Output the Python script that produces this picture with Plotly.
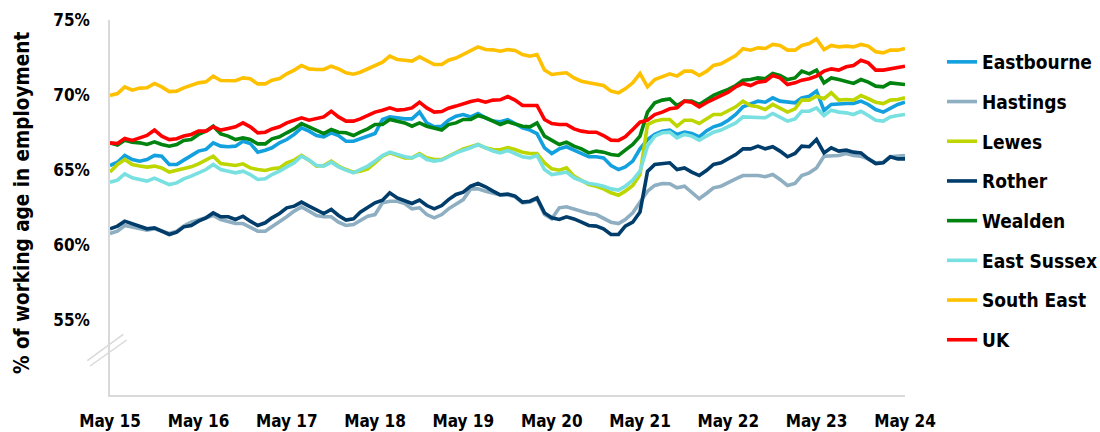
import pandas as pd
import plotly.graph_objects as go

months = pd.date_range("2015-05-01", "2024-05-01", freq="MS")
tick_labels = ["May 15", "May 16", "May 17", "May 18", "May 19", "May 20", "May 21", "May 22", "May 23", "May 24"]
y_ticks = [55, 60, 65, 70, 75]
y_tick_labels = ["55%", "60%", "65%", "70%", "75%"]

eastbourne = [65.30, 65.52, 65.97, 65.70, 65.59, 65.70, 65.97, 65.92, 65.37, 65.37, 65.66, 65.97, 66.26, 66.37, 66.81, 66.59, 66.55, 66.59, 66.92, 66.77, 66.19, 66.32, 66.48, 66.81, 67.03, 67.37, 67.81, 67.59, 67.30, 67.21, 67.48, 67.30, 66.92, 66.92, 67.08, 67.30, 67.43, 68.37, 68.54, 68.48, 68.41, 68.41, 68.86, 68.14, 67.88, 67.92, 68.32, 68.59, 68.70, 68.54, 68.77, 68.48, 68.26, 68.22, 68.35, 68.10, 67.81, 67.66, 67.43, 66.48, 66.10, 66.41, 66.55, 66.32, 66.10, 65.88, 65.88, 65.81, 65.30, 65.03, 65.21, 65.59, 66.41, 67.03, 67.37, 67.59, 67.66, 67.37, 67.52, 67.43, 67.21, 67.62, 67.88, 68.03, 68.32, 68.70, 69.21, 69.43, 69.59, 69.52, 69.81, 69.59, 69.52, 69.48, 69.81, 69.92, 70.26, 68.97, 69.37, 69.43, 69.43, 69.43, 69.59, 69.37, 69.03, 68.86, 69.08, 69.37, 69.52]
hastings = [60.77, 60.92, 61.30, 61.21, 61.08, 60.99, 61.08, 60.92, 60.77, 60.92, 61.26, 61.52, 61.66, 61.81, 61.97, 61.70, 61.59, 61.43, 61.43, 61.21, 60.92, 60.92, 61.21, 61.52, 61.88, 62.26, 62.54, 62.26, 61.97, 61.88, 61.88, 61.52, 61.30, 61.37, 61.66, 61.92, 62.03, 62.81, 62.92, 62.92, 62.77, 62.41, 62.48, 62.03, 61.81, 62.03, 62.41, 62.70, 63.03, 63.74, 63.74, 63.59, 63.48, 63.34, 63.34, 63.21, 62.81, 62.86, 63.08, 62.03, 61.75, 62.48, 62.55, 62.41, 62.26, 62.10, 62.03, 61.81, 61.52, 61.43, 61.70, 62.15, 62.81, 63.59, 63.97, 64.10, 64.08, 63.81, 63.92, 63.48, 63.08, 63.45, 63.81, 63.92, 64.19, 64.41, 64.63, 64.63, 64.63, 64.55, 64.70, 64.37, 63.97, 64.10, 64.63, 64.81, 65.14, 65.92, 65.92, 65.97, 66.10, 65.97, 65.92, 65.74, 65.48, 65.52, 65.88, 65.92, 65.97]
lewes = [64.86, 65.37, 65.70, 65.37, 65.26, 65.19, 65.26, 65.14, 64.86, 64.99, 65.14, 65.21, 65.41, 65.66, 65.92, 65.43, 65.37, 65.30, 65.41, 65.14, 65.03, 64.97, 65.08, 65.14, 65.48, 65.66, 65.97, 65.66, 65.26, 65.30, 65.59, 65.26, 65.03, 64.86, 64.92, 65.08, 65.48, 65.92, 66.14, 65.97, 65.81, 65.81, 66.10, 65.81, 65.70, 65.70, 65.92, 66.14, 66.41, 66.55, 66.70, 66.48, 66.37, 66.35, 66.50, 66.37, 66.19, 66.10, 66.10, 65.48, 65.08, 64.99, 65.14, 64.59, 64.32, 64.03, 63.92, 63.74, 63.48, 63.32, 63.59, 63.97, 64.70, 68.03, 68.26, 68.37, 68.37, 67.92, 68.32, 68.32, 68.10, 68.40, 68.70, 68.70, 68.92, 69.21, 69.59, 69.30, 69.21, 69.03, 69.37, 69.14, 68.86, 69.08, 69.66, 69.66, 69.92, 69.75, 70.15, 69.66, 69.70, 69.66, 69.97, 69.75, 69.52, 69.43, 69.66, 69.70, 69.81]
rother = [61.08, 61.26, 61.59, 61.41, 61.26, 61.08, 61.14, 60.92, 60.70, 60.86, 61.21, 61.30, 61.59, 61.81, 62.14, 61.88, 61.88, 61.70, 61.92, 61.59, 61.30, 61.48, 61.81, 62.10, 62.48, 62.59, 62.86, 62.59, 62.37, 62.10, 62.37, 61.97, 61.66, 61.74, 62.19, 62.54, 62.81, 62.99, 63.48, 63.14, 62.92, 62.77, 62.99, 62.63, 62.41, 62.63, 63.03, 63.37, 63.52, 63.92, 64.10, 63.88, 63.59, 63.34, 63.40, 63.26, 62.86, 62.92, 63.14, 62.14, 61.81, 61.70, 61.88, 61.74, 61.52, 61.30, 61.26, 61.08, 60.70, 60.70, 61.26, 61.52, 62.19, 64.90, 65.37, 65.43, 65.48, 65.03, 65.14, 64.86, 64.63, 64.98, 65.37, 65.48, 65.74, 66.03, 66.41, 66.41, 66.59, 66.41, 66.55, 66.26, 65.88, 66.10, 66.59, 66.55, 67.03, 66.14, 66.48, 66.26, 66.32, 66.19, 66.14, 65.74, 65.43, 65.48, 65.88, 65.74, 65.74]
wealden = [66.81, 66.66, 66.99, 66.86, 66.81, 66.70, 66.88, 66.70, 66.59, 66.70, 66.97, 67.03, 67.37, 67.59, 67.92, 67.41, 67.26, 67.03, 67.14, 67.03, 66.74, 66.74, 67.08, 67.21, 67.48, 67.74, 68.10, 67.88, 67.66, 67.43, 67.70, 67.52, 67.48, 67.30, 67.52, 67.74, 68.03, 68.03, 68.37, 68.26, 68.14, 67.92, 68.14, 67.92, 67.81, 67.66, 68.03, 68.14, 68.37, 68.37, 68.63, 68.48, 68.26, 68.03, 68.22, 68.10, 67.92, 67.88, 68.14, 67.26, 66.99, 66.70, 66.86, 66.59, 66.41, 66.14, 66.26, 66.19, 66.03, 65.97, 66.32, 66.70, 67.26, 68.86, 69.48, 69.66, 69.74, 69.30, 69.59, 69.59, 69.37, 69.70, 69.97, 70.19, 70.37, 70.63, 70.99, 71.03, 71.14, 71.08, 71.43, 71.30, 71.03, 71.14, 71.59, 71.41, 71.66, 70.81, 71.14, 71.03, 70.92, 70.77, 71.03, 70.86, 70.59, 70.54, 70.81, 70.77, 70.70]
east_sussex = [64.19, 64.32, 64.74, 64.48, 64.37, 64.26, 64.46, 64.26, 64.03, 64.14, 64.41, 64.59, 64.81, 65.03, 65.37, 65.03, 64.92, 64.81, 64.92, 64.70, 64.37, 64.41, 64.70, 64.92, 65.21, 65.48, 65.92, 65.66, 65.30, 65.26, 65.52, 65.21, 64.99, 64.81, 65.03, 65.26, 65.59, 65.97, 66.19, 66.03, 65.88, 65.81, 66.03, 65.70, 65.59, 65.66, 65.92, 66.14, 66.32, 66.48, 66.70, 66.48, 66.26, 66.14, 66.30, 66.10, 65.88, 65.81, 65.97, 65.03, 64.70, 64.77, 64.86, 64.48, 64.26, 64.10, 64.03, 63.92, 63.74, 63.66, 63.92, 64.32, 64.92, 66.59, 67.26, 67.48, 67.52, 67.14, 67.37, 67.26, 66.99, 67.25, 67.52, 67.66, 67.88, 68.14, 68.54, 68.54, 68.54, 68.48, 68.77, 68.54, 68.26, 68.41, 68.92, 68.92, 69.14, 68.63, 68.99, 68.86, 68.81, 68.70, 68.92, 68.63, 68.32, 68.26, 68.54, 68.63, 68.70]
south_east = [69.97, 70.10, 70.54, 70.32, 70.46, 70.48, 70.77, 70.54, 70.23, 70.26, 70.48, 70.63, 70.81, 70.88, 71.26, 70.97, 70.99, 70.95, 71.14, 71.08, 70.74, 70.74, 70.99, 71.10, 71.41, 71.66, 71.97, 71.74, 71.70, 71.70, 71.92, 71.74, 71.48, 71.39, 71.52, 71.74, 71.92, 72.19, 72.59, 72.37, 72.32, 72.26, 72.54, 72.32, 72.03, 72.03, 72.32, 72.46, 72.70, 72.97, 73.21, 73.03, 73.01, 72.92, 73.03, 72.97, 72.70, 72.59, 72.70, 71.66, 71.37, 71.43, 71.48, 71.14, 70.92, 70.81, 70.74, 70.63, 70.26, 70.14, 70.41, 70.81, 71.43, 70.54, 71.03, 71.21, 71.41, 71.26, 71.59, 71.59, 71.30, 71.59, 71.97, 72.08, 72.32, 72.63, 73.08, 72.99, 73.14, 73.10, 73.37, 73.30, 72.99, 72.99, 73.30, 73.43, 73.74, 73.03, 73.30, 73.21, 73.26, 73.21, 73.37, 73.26, 72.88, 72.81, 72.99, 72.99, 73.10]
uk = [66.81, 66.77, 67.10, 66.97, 67.14, 67.30, 67.66, 67.26, 67.03, 67.08, 67.26, 67.37, 67.59, 67.59, 67.88, 67.66, 67.77, 67.88, 68.14, 67.88, 67.48, 67.52, 67.74, 67.88, 68.14, 68.32, 68.48, 68.32, 68.41, 68.54, 68.92, 68.54, 68.26, 68.26, 68.41, 68.63, 68.86, 68.99, 69.14, 68.99, 69.03, 69.14, 69.52, 69.14, 68.86, 68.90, 69.12, 69.26, 69.43, 69.57, 69.66, 69.52, 69.66, 69.68, 69.90, 69.66, 69.30, 69.30, 69.30, 68.37, 68.10, 68.03, 68.03, 67.74, 67.59, 67.52, 67.52, 67.30, 66.99, 66.97, 67.21, 67.70, 68.19, 68.32, 68.70, 68.86, 69.08, 69.14, 69.59, 69.52, 69.21, 69.50, 69.70, 69.92, 70.19, 70.54, 70.77, 70.63, 70.86, 70.92, 71.30, 71.14, 70.70, 70.81, 70.99, 71.08, 71.26, 71.59, 71.74, 71.66, 71.88, 71.97, 72.32, 72.14, 71.66, 71.66, 71.74, 71.81, 71.92]

series_names = ["Eastbourne", "Hastings", "Lewes", "Rother", "Wealden", "East Sussex", "South East", "UK"]
series_values = [eastbourne, hastings, lewes, rother, wealden, east_sussex, south_east, uk]
series_colors = ["#12A0DE", "#8EAEC2", "#BDD600", "#003D6B", "#00830F", "#78E0E0", "#FFC000", "#FF0000"]

FONT = "'DejaVu Sans Condensed', 'DejaVu Sans', sans-serif"

fig = go.Figure()
for name, vals, col in zip(series_names, series_values, series_colors):
    fig.add_trace(go.Scatter(
        x=months, y=vals, name=name, mode="lines", legendgroup=name,
        line=dict(color=col, width=3.6), hoverinfo="skip"))

L, R, T, B = 110, 195, 20, 37
W = 1100 - L - R
H = 432 - T - B
fig.update_layout(
    width=1100, height=432,
    margin=dict(l=L, r=R, t=T, b=B, autoexpand=False),
    paper_bgcolor="white", plot_bgcolor="white",
    font=dict(family=FONT, size=16, color="black", weight="bold"),
    showlegend=True,
    legend=dict(x=(942 - L) / W, y=(432 - B - 43) / H, xanchor="left", yanchor="top",
                font=dict(family=FONT, size=19, color="black", weight="bold"),
                tracegroupgap=12, itemwidth=30, bgcolor="rgba(0,0,0,0)"),
)
fig.update_xaxes(
    range=[months[0], months[-1]],
    tickvals=[months[i] for i in range(0, len(months), 12)],
    ticktext=tick_labels,
    showline=True, linecolor="#D9D9D9", linewidth=1.5,
    showgrid=False, zeroline=False, ticks="", automargin=False,
    tickfont=dict(family=FONT, size=17, color="black", weight="bold"),
    ticklabelstandoff=10,
)
fig.update_yaxes(
    range=[50, 75],
    tickvals=y_ticks, ticktext=y_tick_labels,
    showline=True, linecolor="#D9D9D9", linewidth=1.5,
    showgrid=False, zeroline=False, ticks="", automargin=False,
    tickfont=dict(family=FONT, size=17, color="black", weight="bold"),
    ticklabelstandoff=15,
)
# y-axis title
fig.add_annotation(
    text="% of working age in employment", textangle=-90,
    xref="paper", yref="paper", x=(22 - L) / W, y=(432 - B - 203) / H,
    xanchor="center", yanchor="middle", showarrow=False,
    font=dict(family=FONT, size=20.5, color="black", weight="bold"))
# axis break marks
for (x0, y0, x1, y1) in [(87.3, 360.7, 123.3, 334.3), (90, 366, 126.7, 340)]:
    fig.add_shape(type="line", xref="paper", yref="paper",
                  x0=(x0 - L) / W, y0=(432 - B - y0) / H,
                  x1=(x1 - L) / W, y1=(432 - B - y1) / H,
                  line=dict(color="#D9D9D9", width=1.5))

fig.write_html("out.html", config={"displayModeBar": False},
               post_script="document.body.style.margin='0px';document.body.style.overflow='hidden';")
